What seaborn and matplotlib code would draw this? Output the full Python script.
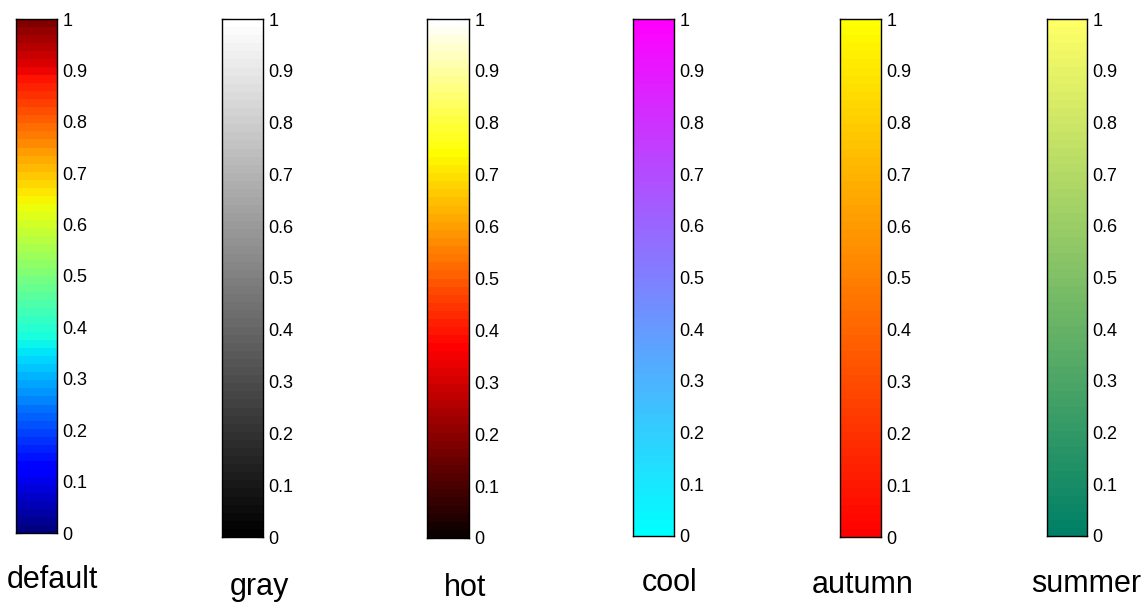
import numpy as np
import pandas as pd
import matplotlib
matplotlib.use("Agg")
import matplotlib.pyplot as plt
import seaborn as sns
from matplotlib.colors import ListedColormap

sns.set_style("white")
plt.rcParams['font.family'] = ['Liberation Sans', 'DejaVu Sans']
plt.rcParams['text.color'] = 'black'

# ---- data ----
names = ["default", "gray", "hot", "cool", "autumn", "summer"]
cmap_names = ["jet", "gray", "hot", "cool", "autumn", "summer"]
n_levels = 64
levels = np.linspace(0, 1, n_levels)
tick_values = [0, 0.1, 0.2, 0.3, 0.4, 0.5, 0.6, 0.7, 0.8, 0.9, 1]
tick_labels = ["0", "0.1", "0.2", "0.3", "0.4", "0.5", "0.6", "0.7", "0.8", "0.9", "1"]

# ---- layout (pixels) ----
W, H = 1146, 606
bars_px = [  # left, top, right, bottom
    (16, 19, 57, 533),
    (222, 19, 263, 537),
    (427, 19, 469, 538),
    (633, 19, 674, 536),
    (840, 19, 881, 537),
    (1047, 19, 1087, 536),
]
labels_px = [(52, 580), (259, 587), (465, 588), (670, 583), (863, 585), (1086, 584)]

fig = plt.figure(figsize=(W / 100, H / 100), dpi=100)

for name, cm, (l, t, r, b), (lx, ly) in zip(names, cmap_names, bars_px, labels_px):
    ax = fig.add_axes([l / W, (H - b) / H, (r - l) / W, (b - t) / H])
    df = pd.DataFrame({"v": levels}, index=levels)
    cmap = ListedColormap(plt.get_cmap(cm)(levels))
    sns.heatmap(df, ax=ax, cmap=cmap, vmin=0, vmax=1, cbar=False,
                xticklabels=False, yticklabels=False)
    ax.set_ylim(0, n_levels)
    ax.set_xlim(0, 1)
    ax.set_xlabel("")
    ax.set_ylabel("")
    ax.set_yticks([v * n_levels for v in tick_values])
    ax.set_yticklabels(tick_labels)
    ax.yaxis.tick_right()
    ax.tick_params(axis="y", which="both", direction="in", length=4, width=0.8,
                   left=True, right=True, labelleft=False, labelright=True,
                   labelsize=13, pad=4, colors="black")
    ax.set_xticks([])
    for s in ax.spines.values():
        s.set_visible(True)
        s.set_color("black")
        s.set_linewidth(1.0)
    fig.text(lx / W, 1 - ly / H, name, ha="center", va="center", fontsize=22,
             color="black")

fig.savefig("out.png", dpi=100)
